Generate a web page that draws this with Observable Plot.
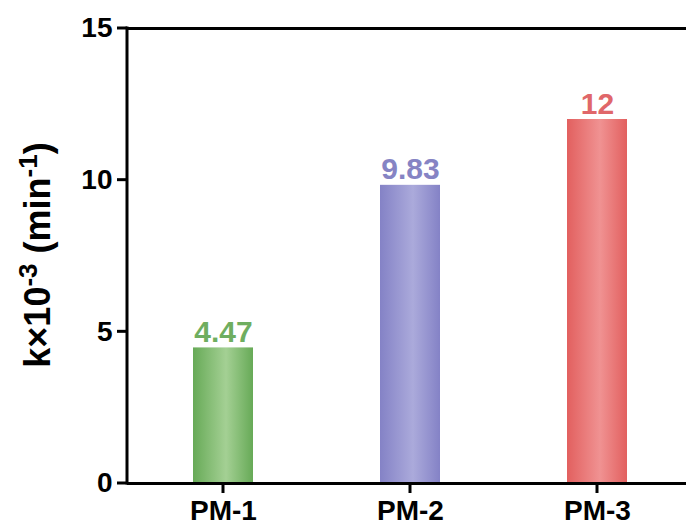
<!DOCTYPE html>
<html>
<head>
<meta charset="utf-8">
<script src="https://cdn.jsdelivr.net/npm/d3@7"></script>
<script src="https://cdn.jsdelivr.net/npm/@observablehq/plot@0.6"></script>
<style>
  body { margin: 0; background: #fff; }
  svg { display: block; }
</style>
</head>
<body>
<div id="chart"></div>
<script>
// Pseudo-first-order rate constants for each sample
const samples = ["PM-1", "PM-2", "PM-3"];
const rateConstants = [4.47, 9.83, 12];
const valueLabels = ["4.47", "9.83", "12"];
const yTicks = [0, 5, 10, 15];

// Bar shading: darker edges, lighter band toward the middle
const edgeColors = ["#67aa57", "#8482c6", "#e2605f"];
const centerColors = ["#a4d094", "#abaadb", "#f09292"];
const labelColors = ["#6fae60", "#8684c4", "#e0676a"];

const rows = samples.map((s, i) => ({
  sample: s,
  k: rateConstants[i],
  label: valueLabels[i],
  color: labelColors[i]
}));

const font = '"Liberation Sans", Arial, sans-serif';
const TICK = 10;

const chart = Plot.plot({
  width: 686,
  height: 526,
  marginLeft: 127,
  marginRight: 0,
  marginTop: 28,
  marginBottom: 43,
  style: { fontFamily: font, fontWeight: "bold", fontSize: "28px", background: "#fff", color: "#000" },
  x: { domain: samples, range: [128, 691], paddingInner: 0.68, paddingOuter: 0.34, label: null },
  y: { domain: [0, 15], label: null },
  marks: [
    Plot.barY(rows, { x: "sample", y: "k", fill: "#999" }),
    Plot.ruleY([0, 15], { stroke: "#000", strokeWidth: 3 }),
    Plot.axisY({ ticks: yTicks, tickSize: 0, tickPadding: TICK + 5, fontSize: 28, label: null }),
    Plot.axisX({ tickSize: 0, tickPadding: TICK + 7, fontSize: 28, label: null }),
    Plot.text(rows, {
      x: "sample", y: "k", text: "label", fill: "color",
      lineAnchor: "bottom", dy: -6, fontSize: 30, fontWeight: "bold"
    })
  ]
});

const svg = d3.select(chart);
const xScale = chart.scale("x");
const yScale = chart.scale("y");
const x0 = 127;
const y0 = yScale.apply(0);

// Horizontal gradients for the bars
const defs = svg.insert("defs", ":first-child");
samples.forEach((s, i) => {
  const g = defs.append("linearGradient")
    .attr("id", `bar-grad-${i}`)
    .attr("x1", 0).attr("x2", 1).attr("y1", 0).attr("y2", 0);
  g.append("stop").attr("offset", "0%").attr("stop-color", edgeColors[i]);
  g.append("stop").attr("offset", "55%").attr("stop-color", centerColors[i]);
  g.append("stop").attr("offset", "100%").attr("stop-color", edgeColors[i]);
});
svg.selectAll('g[aria-label="bar"] rect').attr("fill", (d, i) => `url(#bar-grad-${i})`);

// Heavy axis line and tick marks
const axes = svg.append("g").attr("stroke", "#000").attr("stroke-width", 3);
axes.append("line")
  .attr("x1", x0).attr("x2", x0)
  .attr("y1", y0 + 1.5).attr("y2", yScale.apply(15) - 1.5);
yTicks.forEach(t => {
  const y = yScale.apply(t);
  axes.append("line").attr("x1", x0 - TICK).attr("x2", x0).attr("y1", y).attr("y2", y);
});
samples.forEach(s => {
  const x = xScale.apply(s) + xScale.bandwidth / 2;
  axes.append("line").attr("x1", x).attr("x2", x).attr("y1", y0).attr("y2", y0 + TICK);
});

// Y axis title with superscripts
const title = svg.append("text")
  .attr("transform", "translate(50,255) rotate(-90)")
  .attr("text-anchor", "middle")
  .attr("font-family", font)
  .attr("font-weight", "bold")
  .attr("font-size", 36)
  .attr("fill", "#000");
title.append("tspan").text("k\u00d710");
title.append("tspan").attr("font-size", 26).attr("dy", -13).text("-3");
title.append("tspan").attr("dy", 13).text(" (min");
title.append("tspan").attr("font-size", 26).attr("dy", -13).text("-1");
title.append("tspan").attr("dy", 13).text(")");

document.getElementById("chart").appendChild(chart);
</script>
</body>
</html>
